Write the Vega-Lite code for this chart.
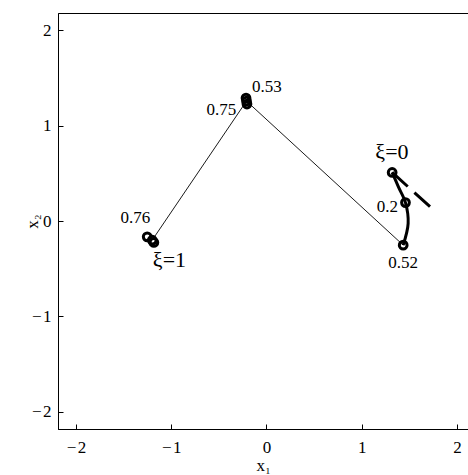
{
  "$schema": "https://vega.github.io/schema/vega-lite/v6.json",
  "autosize": {"type": "none"},
  "padding": {"left": 58, "top": 13, "right": 0, "bottom": 46},
  "width": 410.5,
  "height": 416,
  "background": "white",
  "config": {
    "view": {"stroke": "black", "strokeWidth": 1},
    "font": "Liberation Serif",
    "axis": {
      "grid": false,
      "domainColor": "black",
      "tickColor": "black",
      "labelColor": "black",
      "titleColor": "black",
      "labelFont": "Liberation Serif",
      "titleFont": "Liberation Serif",
      "labelFontSize": 17,
      "titleFontSize": 17,
      "titleFontWeight": "normal",
      "tickSize": -5,
      "tickWidth": 1
    }
  },
  "datasets": {
    "thin": [
      {"order": 1, "x1": -1.2, "x2": -0.2},
      {"order": 2, "x1": -0.21, "x2": 1.257},
      {"order": 3, "x1": 1.436, "x2": -0.253}
    ],
    "curve": [
      {"order": 1, "x1": 1.32, "x2": 0.509},
      {"order": 2, "x1": 1.387, "x2": 0.355},
      {"order": 3, "x1": 1.46, "x2": 0.193},
      {"order": 4, "x1": 1.488, "x2": -0.025},
      {"order": 5, "x1": 1.436, "x2": -0.253}
    ],
    "dash": [
      {"order": 1, "x1": 1.32, "x2": 0.509},
      {"order": 2, "x1": 1.723, "x2": 0.146}
    ],
    "pts": [
      {"x1": -1.253, "x2": -0.166},
      {"x1": -1.2, "x2": -0.201},
      {"x1": -1.183, "x2": -0.225},
      {"x1": -0.215, "x2": 1.288},
      {"x1": -0.21, "x2": 1.257},
      {"x1": -0.205, "x2": 1.226},
      {"x1": 1.32, "x2": 0.509},
      {"x1": 1.46, "x2": 0.193},
      {"x1": 1.436, "x2": -0.253}
    ],
    "nums": [
      {"x1": -1.376, "x2": 0.029, "label": "0.76"},
      {"x1": -0.475, "x2": 1.162, "label": "0.75"},
      {"x1": 0.003, "x2": 1.4, "label": "0.53"},
      {"x1": 1.271, "x2": 0.149, "label": "0.2"},
      {"x1": 1.436, "x2": -0.444, "label": "0.52"}
    ],
    "xis": [
      {"x1": -1.019, "x2": -0.41, "label": "ξ=1"},
      {"x1": 1.318, "x2": 0.725, "label": "ξ=0"}
    ]
  },
  "encoding": {
    "x": {
      "field": "x1", "type": "quantitative",
      "scale": {"domain": [-2.19, 2.122], "nice": false, "zero": false},
      "axis": {
        "title": "x₁",
        "values": [-2, -1, 0, 1, 2],
        "labelExpr": "datum.value < 0 ? '\u2212\u200a' + abs(datum.value) : datum.label",
        "labelPadding": 15,
        "titleY": 36,
        "titleBaseline": "middle"
      }
    },
    "y": {
      "field": "x2", "type": "quantitative",
      "scale": {"domain": [-2.18, 2.18], "nice": false, "zero": false},
      "axis": {
        "title": "x₂",
        "values": [-2, -1, 0, 1, 2],
        "labelExpr": "datum.value < 0 ? '\u2212\u200a' + abs(datum.value) : datum.label",
        "labelPadding": 12,
        "titleX": -26,
        "titleY": 208,
        "titleAngle": 270,
        "titleAlign": "center",
        "titleBaseline": "middle"
      }
    }
  },
  "layer": [
    {
      "data": {"name": "thin"},
      "mark": {"type": "line", "color": "black", "strokeWidth": 0.9},
      "encoding": {"order": {"field": "order", "type": "quantitative"}}
    },
    {
      "data": {"name": "curve"},
      "mark": {"type": "line", "color": "black", "strokeWidth": 3, "interpolate": "catmull-rom"},
      "encoding": {"order": {"field": "order", "type": "quantitative"}}
    },
    {
      "data": {"name": "dash"},
      "mark": {"type": "line", "color": "black", "strokeWidth": 3, "strokeDash": [21, 9]},
      "encoding": {"order": {"field": "order", "type": "quantitative"}}
    },
    {
      "data": {"name": "pts"},
      "mark": {"type": "point", "shape": "circle", "filled": false, "color": "black", "strokeWidth": 3, "size": 60, "opacity": 1}
    },
    {
      "data": {"name": "nums"},
      "mark": {"type": "text", "fontSize": 17, "font": "Liberation Serif", "color": "black", "baseline": "middle", "align": "center"},
      "encoding": {"text": {"field": "label"}}
    },
    {
      "data": {"name": "xis"},
      "mark": {"type": "text", "fontSize": 22, "font": "Liberation Serif", "color": "black", "baseline": "middle", "align": "center"},
      "encoding": {"text": {"field": "label"}}
    }
  ]
}
